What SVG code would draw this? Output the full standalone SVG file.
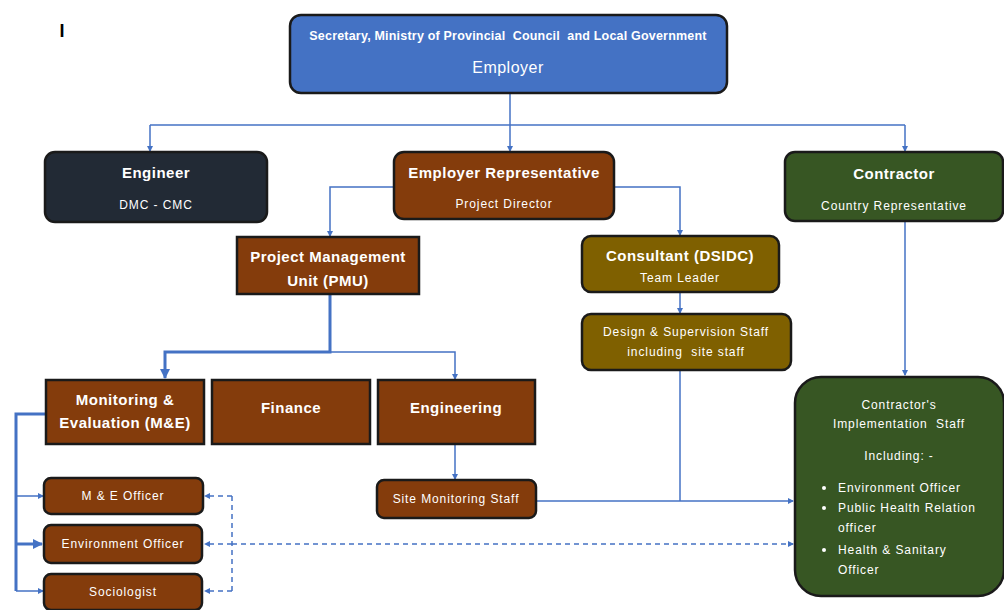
<svg xmlns="http://www.w3.org/2000/svg" width="1004" height="610" viewBox="0 0 1004 610">
<defs>
<marker id="ah" markerWidth="6" markerHeight="6" refX="5" refY="3" orient="auto" markerUnits="userSpaceOnUse">
<path d="M0,0 L6,3 L0,6 z" fill="#4472C4"/>
</marker>
<marker id="ahb" markerWidth="10" markerHeight="10" refX="9" refY="5" orient="auto" markerUnits="userSpaceOnUse">
<path d="M0,0 L10,5 L0,10 z" fill="#4472C4"/>
</marker>
</defs>
<style>
.n{stroke:#1a1a1a;stroke-width:2.5}
.blue{fill:#4472C4}
.navy{fill:#222A35}
.brown{fill:#843C0C}
.gold{fill:#7F6000}
.green{fill:#375623}
text{font-family:"Liberation Sans",Arial,sans-serif;fill:#fff;text-anchor:middle;white-space:pre}
.t{font-size:15px;font-weight:bold;letter-spacing:0.5px}
.s{font-size:12px;letter-spacing:0.9px}
.l{text-anchor:start}
.c{stroke:#4472C4;stroke-width:1.5;fill:none}
.ct{stroke:#4472C4;stroke-width:3;fill:none}
.d{stroke:#4472C4;stroke-width:1.5;fill:none;stroke-dasharray:5,4}
</style>
<rect width="1004" height="610" fill="#fff"/>
<text x="62" y="37" style="fill:#000;font-size:18px;font-weight:bold">I</text>

<g id="connectors">
<path class="c" d="M510,93 V125"/>
<path class="c" d="M150,125 H905"/>
<path class="c" d="M150,125 V151" marker-end="url(#ah)"/>
<path class="c" d="M510,125 V151" marker-end="url(#ah)"/>
<path class="c" d="M905,125 V151" marker-end="url(#ah)"/>
<path class="c" d="M394,187 H330 V236" marker-end="url(#ah)"/>
<path class="c" d="M614,187 H680 V235" marker-end="url(#ah)"/>
<path class="c" d="M680,292 V313" marker-end="url(#ah)"/>
<path class="ct" d="M330,294 V352 H165 V378" marker-end="url(#ahb)"/>
<path class="c" d="M330,352 H455 V379" marker-end="url(#ah)"/>
<path class="c" d="M455,444 V479" marker-end="url(#ah)"/>
<path class="c" d="M536,501 H793" marker-end="url(#ah)"/>
<path class="c" d="M680,370 V501"/>
<path class="c" d="M905,221 V375" marker-end="url(#ah)"/>
<path class="ct" d="M46,414 H16 V591"/>
<path class="c" d="M16,496 H43" marker-end="url(#ah)"/>
<path class="ct" d="M16,544 H42" marker-end="url(#ahb)"/>
<path class="c" d="M16,591 H43" marker-end="url(#ah)"/>
<path class="d" d="M232,496 V591"/>
<path class="d" d="M232,496 H205" marker-end="url(#ah)"/>
<path class="d" d="M232,591 H205" marker-end="url(#ah)"/>
<path class="d" d="M232,544 H205" marker-end="url(#ah)"/>
<path class="d" d="M232,544 H793" marker-end="url(#ah)"/>
</g>

<g id="employer">
<rect class="n blue" x="290" y="15" width="437" height="78" rx="11"/>
<text x="508" y="40" style="font-size:12.5px;font-weight:bold;letter-spacing:0.2px">Secretary, Ministry of Provincial  Council  and Local Government</text>
<text x="508" y="73" style="font-size:16px;letter-spacing:0.5px">Employer</text>
</g>
<g id="engineer">
<rect class="n navy" x="45" y="152" width="222" height="70" rx="10"/>
<text class="t" x="156" y="178">Engineer</text>
<text class="s" x="156" y="209">DMC - CMC</text>
</g>
<g id="employer-rep">
<rect class="n brown" x="394" y="152" width="220" height="67" rx="10"/>
<text class="t" x="504" y="178">Employer Representative</text>
<text class="s" x="504" y="208">Project Director</text>
</g>
<g id="contractor">
<rect class="n green" x="785" y="152" width="218" height="69" rx="10"/>
<text class="t" x="894" y="179">Contractor</text>
<text class="s" x="894" y="210">Country Representative</text>
</g>
<g id="pmu">
<rect class="n brown" x="237" y="237" width="182" height="57"/>
<text class="t" x="328" y="262">Project Management</text>
<text class="t" x="328" y="286">Unit (PMU)</text>
</g>
<g id="consultant">
<rect class="n gold" x="582" y="236" width="197" height="56" rx="9"/>
<text class="t" x="680" y="261">Consultant (DSIDC)</text>
<text class="s" x="680" y="282">Team Leader</text>
</g>
<g id="design-staff">
<rect class="n gold" x="582" y="314" width="209" height="56" rx="9"/>
<text class="s" x="686" y="336">Design &amp; Supervision Staff</text>
<text class="s" x="686" y="356">including  site staff</text>
</g>
<g id="me">
<rect class="n brown" x="46" y="380" width="158" height="64"/>
<text class="t" x="125" y="405">Monitoring &amp;</text>
<text class="t" x="125" y="428">Evaluation (M&amp;E)</text>
</g>
<g id="finance">
<rect class="n brown" x="212" y="380" width="158" height="64"/>
<text class="t" x="291" y="413">Finance</text>
</g>
<g id="engineering">
<rect class="n brown" x="378" y="380" width="157" height="64"/>
<text class="t" x="456" y="413">Engineering</text>
</g>
<g id="site-monitoring">
<rect class="n brown" x="377" y="480" width="159" height="38" rx="7"/>
<text class="s" x="456" y="503">Site Monitoring Staff</text>
</g>
<g id="me-officer">
<rect class="n brown" x="44" y="478" width="159" height="36" rx="7"/>
<text class="s" x="123" y="500">M &amp; E Officer</text>
</g>
<g id="env-officer">
<rect class="n brown" x="44" y="525" width="158" height="38" rx="7"/>
<text class="s" x="123" y="548">Environment Officer</text>
</g>
<g id="sociologist">
<rect class="n brown" x="44" y="574" width="158" height="36" rx="7"/>
<text class="s" x="123" y="596">Sociologist</text>
</g>
<g id="impl-staff">
<rect class="n green" x="795" y="377" width="209" height="219" rx="26"/>
<text class="s" x="899" y="409">Contractor's</text>
<text class="s" x="899" y="428">Implementation  Staff</text>
<text class="s" x="899" y="460">Including: -</text>
<circle cx="824" cy="488" r="2" fill="#fff"/>
<text class="s l" x="838" y="492">Environment Officer</text>
<circle cx="824" cy="508" r="2" fill="#fff"/>
<text class="s l" x="838" y="512">Public Health Relation</text>
<text class="s l" x="838" y="532">officer</text>
<circle cx="824" cy="550" r="2" fill="#fff"/>
<text class="s l" x="838" y="554">Health &amp; Sanitary</text>
<text class="s l" x="838" y="574">Officer</text>
</g>
</svg>
